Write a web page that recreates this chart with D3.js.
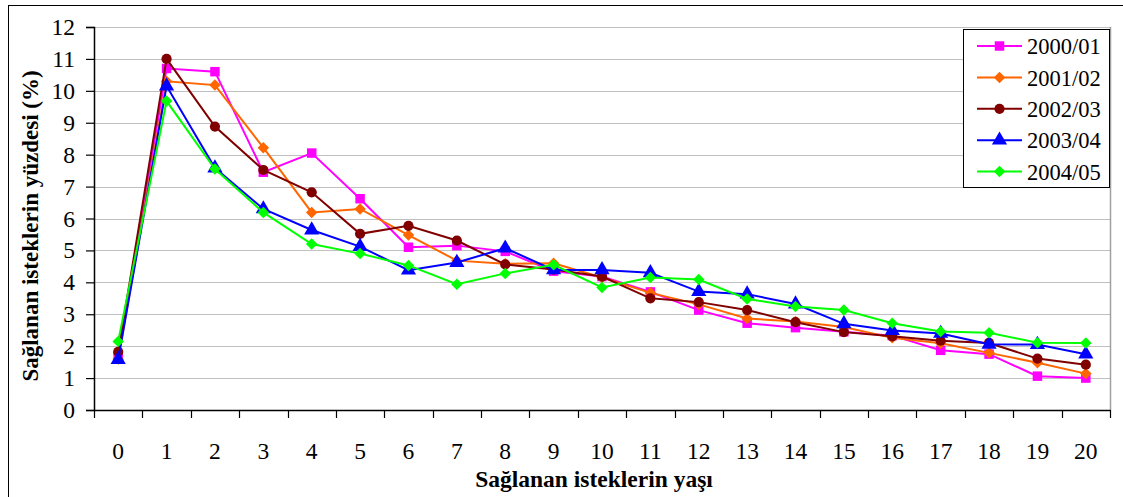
<!DOCTYPE html>
<html><head><meta charset="utf-8">
<script src="https://cdn.jsdelivr.net/npm/d3@7"></script>
<style>body{margin:0;background:#fff;}svg{display:block;}</style>
</head><body>
<svg id="c" width="1123" height="497"></svg>
<script>
const categories = ["0","1","2","3","4","5","6","7","8","9","10","11","12","13","14","15","16","17","18","19","20"];
const yTicks = [0,1,2,3,4,5,6,7,8,9,10,11,12];
const seriesNames = ["2000/01","2001/02","2002/03","2003/04","2004/05"];
const s2000 = [1.65,10.7,10.6,7.45,8.05,6.62,5.1,5.15,4.97,4.35,4.18,3.7,3.13,2.72,2.58,2.45,2.33,1.87,1.75,1.06,1.0];
const s2001 = [1.6,10.3,10.18,8.22,6.19,6.3,5.48,4.68,4.58,4.6,4.15,3.67,3.31,2.87,2.77,2.6,2.26,2.09,1.79,1.48,1.14];
const s2002 = [1.82,11.0,8.88,7.52,6.82,5.52,5.77,5.31,4.56,4.4,4.18,3.5,3.38,3.13,2.75,2.44,2.31,2.17,2.1,1.61,1.42];
const s2003 = [1.58,10.15,7.58,6.3,5.64,5.12,4.38,4.62,5.07,4.39,4.39,4.3,3.71,3.63,3.32,2.7,2.49,2.4,2.06,2.05,1.75];
const s2004 = [2.15,9.68,7.55,6.19,5.2,4.9,4.53,3.94,4.28,4.55,3.84,4.15,4.09,3.48,3.24,3.13,2.72,2.46,2.42,2.11,2.1];
const seriesValues = [s2000,s2001,s2002,s2003,s2004];
const colors = ["#FF00FF","#FF6600","#800000","#0000FF","#00FF00"];
const shapes = [d3.symbolSquare, d3.symbolSquare, d3.symbolCircle, d3.symbolTriangle, d3.symbolSquare];
const rots = [0, 45, 0, 0, 45];
const sizes = [90, 66, 82, 100, 66];

const FONT = '"Liberation Serif", "Times New Roman", serif';
const svg = d3.select("#c");
const L = 94, R = 1110, T = 27, B = 410;

// outer chart border
svg.append("rect").attr("x",8.5).attr("y",5.5).attr("width",1200).attr("height",600)
  .attr("fill","none").attr("stroke","#000").attr("stroke-width",1);

const x = d3.scaleBand().domain(categories).range([L,R]).padding(0);
const y = d3.scaleLinear().domain([0,12]).range([B,T]);

// gridlines
svg.append("g").selectAll("line").data(yTicks.filter(d=>d>0)).join("line")
  .attr("x1",L).attr("x2",R).attr("y1",d=>Math.round(y(d))+0.5).attr("y2",d=>Math.round(y(d))+0.5)
  .attr("stroke","#c0c0c0").attr("stroke-width",1.2);
// plot border right
svg.append("line").attr("x1",R+0.5).attr("x2",R+0.5).attr("y1",T).attr("y2",B)
  .attr("stroke","#a0a0a0").attr("stroke-width",1.5);

// y axis
const yAxis = svg.append("g").attr("transform",`translate(${L},0)`)
  .call(d3.axisLeft(y).tickValues(yTicks).tickSize(8).tickPadding(11).tickFormat(d3.format("d")));
yAxis.select(".domain").attr("stroke","#000").attr("stroke-width",1.5);
yAxis.selectAll(".tick line").attr("stroke","#000").attr("stroke-width",1.2);
yAxis.selectAll("text").style("font-family",FONT).style("font-size","23.5px").attr("fill","#000");

// x axis
const xAxis = svg.append("g").attr("transform",`translate(0,${B})`)
  .call(d3.axisBottom(x).tickSize(0));
xAxis.select(".domain").attr("stroke","#000").attr("stroke-width",1.5);
xAxis.selectAll("text").attr("y",49).attr("dy",0)
  .style("font-family",FONT).style("font-size","23.5px").attr("fill","#000");
// boundary ticks
const bounds = categories.map(c=>x(c)).concat([R]);
xAxis.append("g").selectAll("line").data(bounds).join("line")
  .attr("x1",d=>Math.round(d)+0.5).attr("x2",d=>Math.round(d)+0.5).attr("y1",0).attr("y2",8)
  .attr("stroke","#000").attr("stroke-width",1.2);

// series
const line = d3.line().x((d,i)=>x(categories[i])+x.bandwidth()/2).y(d=>y(d));
seriesValues.forEach((vals,k)=>{
  const g = svg.append("g");
  g.append("path").datum(vals).attr("d",line).attr("fill","none")
    .attr("stroke",colors[k]).attr("stroke-width",2);
  g.selectAll("path.m").data(vals).join("path").attr("class","m")
    .attr("transform",(d,i)=>`translate(${x(categories[i])+x.bandwidth()/2},${y(d)}) rotate(${rots[k]})`)
    .attr("d",d3.symbol().type(shapes[k]).size(sizes[k]))
    .attr("fill",colors[k]);
});

// legend
const lg = svg.append("g");
lg.append("rect").attr("x",963.5).attr("y",29.5).attr("width",146).attr("height",158)
  .attr("fill","#fff").attr("stroke","#000").attr("stroke-width",1);
seriesNames.forEach((n,k)=>{
  const cy = 46 + k*31.4;
  lg.append("line").attr("x1",977).attr("x2",1022).attr("y1",cy).attr("y2",cy)
    .attr("stroke",colors[k]).attr("stroke-width",2);
  lg.append("path").attr("transform",`translate(999.5,${cy}) rotate(${rots[k]})`)
    .attr("d",d3.symbol().type(shapes[k]).size(sizes[k])).attr("fill",colors[k]);
  lg.append("text").attr("x",1027).attr("y",cy).attr("dy","0.36em")
    .style("font-family",FONT).style("font-size","22.5px").text(n);
});

// axis titles
svg.append("text").attr("x",594).attr("y",487).attr("text-anchor","middle")
  .style("font-family",FONT).style("font-weight","bold").style("font-size","23.5px")
  .text("Sağlanan isteklerin yaşı");
svg.append("text").attr("transform","translate(38,226) rotate(-90)").attr("text-anchor","middle")
  .style("font-family",FONT).style("font-weight","bold").style("font-size","23px")
  .text("Sağlanan isteklerin yüzdesi (%)");
</script>
</body></html>
